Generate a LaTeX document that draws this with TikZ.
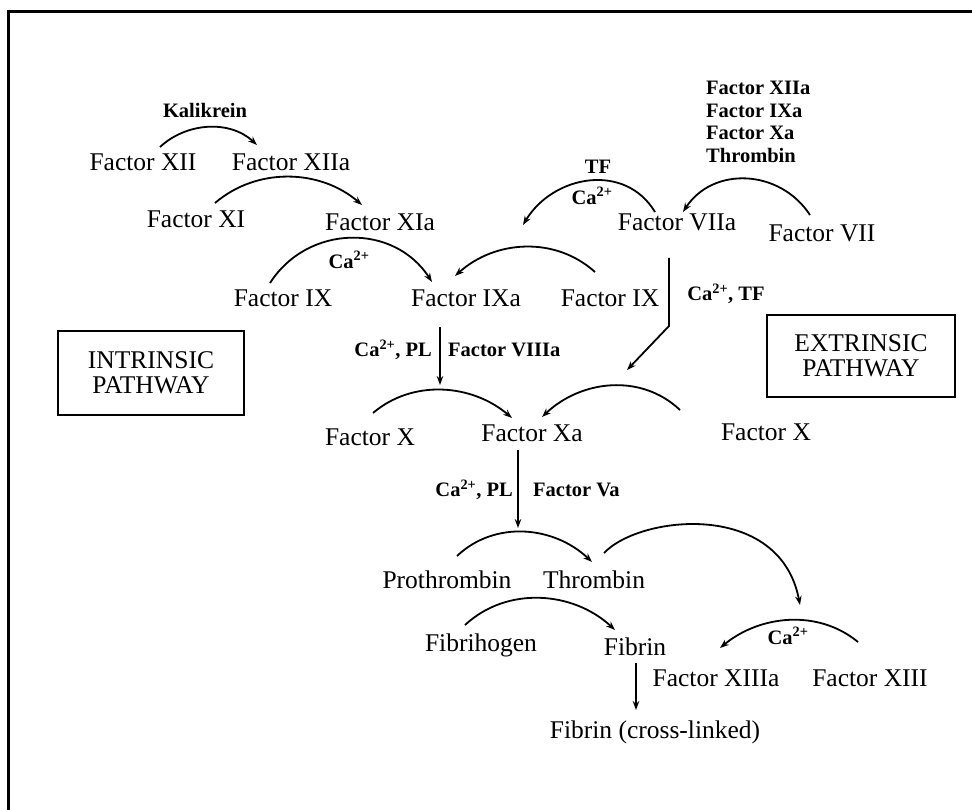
\documentclass[tikz,border=0pt]{standalone}
\usepackage{fontspec}
\setmainfont{Liberation Serif}
\usetikzlibrary{arrows.meta}

\tikzset{
  big/.style={font=\fontsize{25.5}{28}\selectfont, inner sep=0pt},
  small/.style={font=\bfseries\fontsize{20.5}{22.7}\selectfont, inner sep=0pt},
  pathbox/.style={draw, line width=2.5pt, font=\fontsize{25.5}{25}\selectfont,
    align=center, inner sep=0pt},
  conv/.style={line width=1.8pt, -{Stealth[length=9pt,width=6.5pt]}},
  plain/.style={line width=1.8pt}
}

\begin{document}
\begin{tikzpicture}[x=1pt,y=-1pt]
\useasboundingbox (0,0) rectangle (972,810);

% outer frame (top and left edges)
\draw[line width=3pt] (8,810) -- (8,12) -- (972,12);

% ---------- intrinsic cascade ----------
\node[big] (xii)  at (143,162) {Factor XII};
\node[big] (xiia) at (291,162) {Factor XIIa};
\node[small] (kal) at (205,110) {Kalikrein};
\coordinate (xii-s)  at (160,147);
\coordinate (xiia-e) at (257,145);
\draw[conv] (xii-s) .. controls +(27,-25) and +(-27,-25) .. (xiia-e);

\node[big] (xi)  at (196,219) {Factor XI};
\node[big] (xia) at (380,222) {Factor XIa};
\coordinate (xi-s)  at (215,203);
\coordinate (xia-e) at (362,205);
\draw[conv] (xi-s) .. controls +(42,-36) and +(-42,-36) .. (xia-e);

\node[big] (ix)  at (283,298) {Factor IX};
\node[big] (ixa) at (466,298) {Factor IXa};
\node[small] (ca1) at (349,260) {Ca\textsuperscript{2+}};
\coordinate (ix-s)  at (270,283);
\coordinate (ixa-e) at (432,282);
\draw[conv] (ix-s) .. controls +(38,-59) and +(-38,-59) .. (ixa-e);

% ---------- extrinsic cascade ----------
\node[big] (viia) at (677,222) {Factor VIIa};
\node[big] (vii)  at (822,233) {Factor VII};
\node[small, align=left, anchor=west] (act) at (706,122)
  {Factor XIIa\\Factor IXa\\Factor Xa\\Thrombin};
\coordinate (vii-s)  at (810,215);
\coordinate (viia-e) at (683,212);
\draw[conv] (vii-s) .. controls +(-30,-46) and +(30,-46) .. (viia-e);

\node[small] (tf)  at (598,167) {TF};
\node[small] (ca2) at (592,196) {Ca\textsuperscript{2+}};
\coordinate (viia-s) at (655,212);
\coordinate (vtf-e)  at (523,225);
\draw[conv] (viia-s) .. controls +(-30,-50) and +(30,-50) .. (vtf-e);

\node[big] (ix2) at (610,298) {Factor IX};
\coordinate (ix2-s)  at (595,272);
\coordinate (ixa-e2) at (455,276);
\draw[conv] (ix2-s) .. controls +(-40,-36) and +(40,-36) .. (ixa-e2);

% tenase routes to factor X
\node[small, anchor=east] (capl1) at (432,350) {Ca\textsuperscript{2+}, PL};
\node[small, anchor=west] (f8) at (448,350) {Factor VIIIa};
\coordinate (ixa-d) at (440,327);
\coordinate (xa-t1) at (440,385);
\draw[conv] (ixa-d) -- (xa-t1);

\node[small] (catf) at (726,294) {Ca\textsuperscript{2+}, TF};
\coordinate (viia-d) at (669,258);
\coordinate (viia-k) at (669,326);
\coordinate (xa-t2)  at (627,370);
\draw[conv] (viia-d) -- (viia-k) -- (xa-t2);

% ---------- common pathway ----------
\node[big] (xl) at (370,437) {Factor X};
\node[big] (xa) at (532,433) {Factor Xa};
\node[big] (xr) at (766,432) {Factor X};
\coordinate (xl-s)  at (373,413);
\coordinate (xa-e1) at (512,418);
\draw[conv] (xl-s) .. controls +(40,-34) and +(-40,-34) .. (xa-e1);
\coordinate (xr-s)  at (680,410);
\coordinate (xa-e2) at (542,417);
\draw[conv] (xr-s) .. controls +(-39,-37) and +(39,-37) .. (xa-e2);

\node[small, anchor=east] (capl2) at (513,490) {Ca\textsuperscript{2+}, PL};
\node[small, anchor=west] (f5) at (533,490) {Factor Va};
\coordinate (xa-d)   at (518,450);
\coordinate (thr-t)  at (518,528);
\draw[conv] (xa-d) -- (thr-t);

\node[big] (pro) at (447,580) {Prothrombin};
\node[big] (thr) at (594,580) {Thrombin};
\coordinate (pro-s) at (457,556);
\coordinate (thr-e) at (592,562);
\draw[conv] (pro-s) .. controls +(38,-36) and +(-38,-36) .. (thr-e);

\node[big] (fbg) at (481,645) {Fibrihogen};
\node[big] (fib) at (635,647) {Fibrin};
\coordinate (fbg-s) at (465,625);
\coordinate (fib-e) at (615,630);
\draw[conv] (fbg-s) .. controls +(42,-39) and +(-42,-39) .. (fib-e);

% thrombin activates factor XIII
\coordinate (thr-s)  at (604,553);
\coordinate (xiii-t) at (800,605);
\draw[conv] (thr-s) .. controls (640,515) and (780,500) .. (xiii-t);

\node[big] (xiiia) at (716,678) {Factor XIIIa};
\node[big] (xiii)  at (870,678) {Factor XIII};
\node[small] (ca3) at (788,636) {Ca\textsuperscript{2+}};
\coordinate (xiii-s)  at (858,642);
\coordinate (xiiia-e) at (720,648);
\draw[conv] (xiii-s) .. controls +(-40,-33) and +(40,-33) .. (xiiia-e);

\node[big] (fcl) at (655,732) {Fibrin (cross-linked)};
\coordinate (fib-d) at (636,663);
\coordinate (fcl-t) at (636,710);
\draw[conv] (fib-d) -- (fcl-t);

% ---------- pathway labels ----------
\node[pathbox, minimum width=186pt, minimum height=84pt] (intr) at (151,373)
  {INTRINSIC\\PATHWAY};
\node[pathbox, minimum width=188pt, minimum height=82pt] (extr) at (861,356)
  {EXTRINSIC\\PATHWAY};
\end{tikzpicture}
\end{document}
